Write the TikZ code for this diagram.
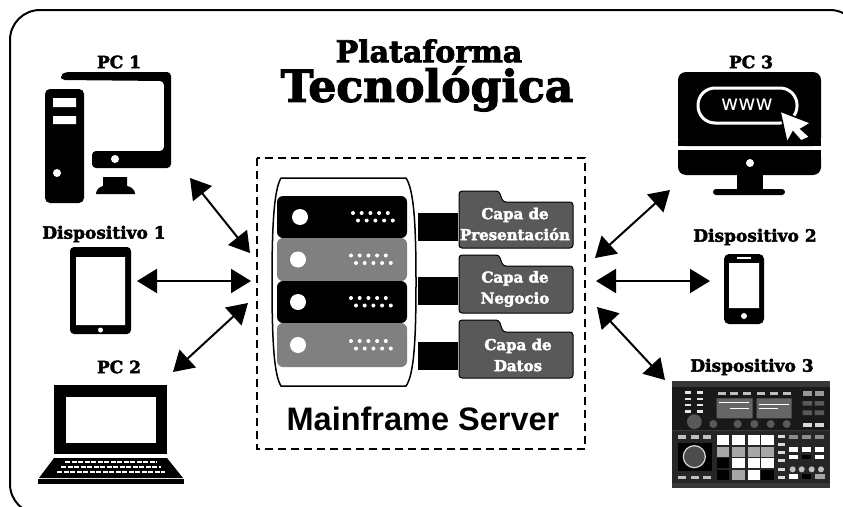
\documentclass[tikz,border=0pt]{standalone}
\usepackage{fontspec}
\usetikzlibrary{arrows.meta}
\newfontface\slabfont{DejaVu Serif Bold}[FakeBold=2.5]
\newfontface\titlefont{DejaVu Serif Bold}[FakeBold=2.5]
\newfontface\headfont{Liberation Sans Bold}
\newfontface\urlfont{DejaVu Sans}
\definecolor{rackgray}{HTML}{808080}
\definecolor{foldergray}{HTML}{595959}
\tikzset{
  devlabel/.style={inner sep=0,font=\slabfont\fontsize{17}{17}\selectfont},
  layerlabel/.style={inner sep=0,align=center,text=white,font=\slabfont\fontsize{15}{21}\selectfont},
  link/.style={line width=2pt,{Triangle[length=20pt,width=24pt]}-{Triangle[length=20pt,width=24pt]}}
}
\begin{document}
\begin{tikzpicture}[x=1pt,y=-1pt]
  % Boundary
  \path[use as bounding box] (0,0) rectangle (843,506);
  \clip (0,0) rectangle (843,506);
  \fill[white] (0,0) rectangle (843,506);
  \draw[line width=2pt,rounded corners=30] (10,10) rectangle (860,514);
  % Title
  \node[inner sep=0,font=\titlefont\fontsize{30}{30}\selectfont] (titleTop) at (429,51) {Plataforma};
  \node[inner sep=0,font=\titlefont\fontsize{44}{44}\selectfont] (titleBottom) at (427,89) {Tecnológica};
  % PC 1
  \node[devlabel] (pcOne) at (119,62) {PC 1};
  \fill[rounded corners=5] (45,89) rectangle (84,203);
  \fill[white] (53,98) rectangle (76,107) (53,116) rectangle (76,124) (57,173) circle (4);
  \fill[rounded corners=4] (61,80) -- (61,76) -- (64,72) -- (171,72) -- (171,168) -- (92,168) -- (92,151) -- (164,151) -- (164,81) -- cycle;
  \fill[white] (115,159) circle (4);
  \fill (103,177) -- (127,177) -- (127,186) .. controls (132,187) and (135,190) .. (135,194) -- (96,194) .. controls (96,190) and (99,187) .. (103,186) -- cycle;
  % Dispositivo 1
  \node[devlabel] (devOne) at (104,234) {Dispositivo 1};
  \fill[rounded corners=4] (70,247) rectangle (131,334);
  \fill[white] (76,257) rectangle (125,325) (100.5,330) circle (2.5);
  % PC 2
  \node[devlabel] (pcTwo) at (119,367) {PC 2};
  \fill (54,385) rectangle (167,454);
  \fill[white] (66,397) rectangle (156,443);
  \fill (54,458) -- (167,458) -- (183,478) -- (39,478) -- cycle;
  \fill (38,479) rectangle (184,484);
  \foreach \row/\xa/\xb in {462/65/157,467/61/161,472/57/165}
    \draw[white,line width=2.6pt,dash pattern=on 5pt off 1.5pt] (\xa,\row) -- (\xb,\row);
  % Server frame
  \draw[line width=1.5pt,dash pattern=on 8pt off 5pt] (257,158) rectangle (585,449);
  \draw[line width=1.5pt,fill=white] (281,178) -- (406,178) .. controls (414,190) and (416,225) .. (416,282) .. controls (416,340) and (414,375) .. (406,386) -- (281,386) .. controls (274,375) and (272,340) .. (272,282) .. controls (272,225) and (274,190) .. (281,178) -- cycle;
  % Racks
  \foreach \top/\bot/\shade/\dotx in {196/238/black/2,238/281/rackgray/0,281/323/black/0,323/367/rackgray/0} {
    \fill[\shade,rounded corners=6] (277,\top) rectangle (407,\bot);
    \pgfmathsetmacro\cy{(\top+\bot)/2}
    \fill[white] (298+\dotx,\cy) circle (8);
    \foreach \k in {0,...,4} {
      \fill[white] (351+\dotx+8.7*\k,\cy-4) circle (2);
      \fill[white] (356+\dotx+8.7*\k,\cy+3.5) circle (2);
    }
  }
  % Folders
  \foreach \top/\body/\bot in {191/202/248,255/266/313,320/332/378} {
    \fill (418,\top+22) rectangle (458,\top+50);
    \filldraw[fill=foldergray,draw=black,line width=1pt,rounded corners=3] (459,\bot) -- (459,\top) -- (499,\top) -- (503,\body) -- (573,\body) -- (573,\bot) -- cycle;
  }
  \node[layerlabel] (capaPres) at (515,224) {Capa de\\Presentación};
  \node[layerlabel] (capaNeg) at (515,289) {Capa de\\Negocio};
  \node[layerlabel] (capaDat) at (518,355) {Capa de\\Datos};
  \node[inner sep=0,font=\headfont\fontsize{32.5}{32}\selectfont] (serverName) at (423,419) {Mainframe Server};
  % PC 3
  \node[devlabel] (pcThree) at (751,62) {PC 3};
  \fill[rounded corners=8] (678,72) -- (821,72) -- (821,146) -- (678,146) -- cycle;
  \fill (678,140) rectangle (821,146);
  \fill[rounded corners=8] (678,175) -- (678,150) -- (821,150) -- (821,175) -- cycle;
  \fill (678,150) rectangle (821,160);
  \fill[white] (750,163) circle (4);
  \fill (737,174) rectangle (763,190);
  \fill[rounded corners=3] (713,189) rectangle (785,195);
  \draw[white,line width=3pt,rounded corners=17] (698,88) rectangle (797,123);
  \node[inner sep=0,text=white,font=\urlfont\fontsize{21}{21}\selectfont] (urlText) at (747,105) {www};
  \filldraw[fill=white,draw=black,line width=1.5pt] (780,111) -- (811,123) -- (801,129) -- (810,137) -- (801,141) -- (793,132) -- (787,143) -- cycle;
  % Dispositivo 2
  \node[devlabel] (devTwo) at (755,237) {Dispositivo 2};
  \fill[rounded corners=5] (724,254) rectangle (764,324);
  \fill[white] (729,263) rectangle (759,308) (744,316) circle (3);
  \draw[white,line width=1.5pt] (737,258) -- (751,258);
  % Dispositivo 3
  \node[devlabel] (devThree) at (752,367) {Dispositivo 3};
  \begin{scope}[shift={(650,340)},scale=1/3]
    \fill[black!78] (67,122) rectangle (540,445);
    \fill[black!90] (67,140) rectangle (540,270);
    \fill[black!85] (67,273) rectangle (540,430);
    \foreach \bx in {115,150}
      \foreach \by in {158,177,195,214}
        \fill[white!90!black] (\bx-9,\by-4) rectangle (\bx+9,\by+4);
    \fill[black!65] (133,245) circle (22);
    \foreach \bx in {215,253,292,333,372,411}
      \fill[black!25] (\bx-12,155) rectangle (\bx+12,166);
    \fill[black!60] (200,175) rectangle (308,235) (320,175) rectangle (425,235);
    \draw[white,line width=1pt] (207,188) -- (298,188) (240,205) -- (298,205) (327,192) -- (418,192) (327,205) -- (385,205);
    \foreach \bx in {190,263,313,362,410}
      \fill[black!65] (\bx,252) circle (12);
    \foreach \bx in {472,508} {
      \fill[black!40] (\bx-14,153) rectangle (\bx+14,167);
      \fill[black!65] (\bx-14,183) rectangle (\bx+14,197) (\bx-14,211) rectangle (\bx+14,225);
      \fill[black!15] (\bx-14,248) rectangle (\bx+14,262);
    }
    \foreach \bx in {95,135,172} {
      \fill[black!25] (\bx-12,285) rectangle (\bx+12,296);
      \fill[black!25] (\bx-12,407) rectangle (\bx+12,418);
    }
    \fill[black] (85,308) rectangle (185,393);
    \filldraw[fill=black!70,draw=white!85!black,line width=1.2pt] (133,350) circle (33);
    % Pads
    \foreach \bx/\by/\pad in {200/285/white,247/285/white,293/285/white,334/285/white,
      200/320/black!35,247/320/black!35,293/320/black!35,334/320/black!35,
      200/355/black,247/355/white,293/355/white,334/355/white,
      200/390/black,247/390/black!35,293/390/white,334/390/black}
      \fill[\pad] (\bx,\by) rectangle (\bx+38,\by+30);
    \foreach \by in {290,313,338,362,388,412}
      \fill[black!15] (384,\by-5) rectangle (406,\by+5);
    \foreach \bx in {430,470,508} {
      \fill[black!45] (\bx-14,284) rectangle (\bx+14,297);
      \fill[white] (\bx-14,322) rectangle (\bx+14,335);
      \fill[white] (\bx-14,344) rectangle (\bx+14,357);
    }
    \fill[black] (456,344) rectangle (484,357);
    \foreach \bx in {428,455,485,513}
      \fill[black!25] (\bx,388) circle (9);
    \fill[white] (416,403) rectangle (444,417);
    \fill[black] (456,403) rectangle (484,417);
    \fill[black!35] (496,403) rectangle (524,417);
  \end{scope}
  % Link ends
  \coordinate (pcOneEnd) at (190,178);
  \coordinate (pcOneSrv) at (250,253);
  \coordinate (devOneEnd) at (137,281);
  \coordinate (devOneSrv) at (251,281);
  \coordinate (pcTwoEnd) at (173,372);
  \coordinate (pcTwoSrv) at (248,303);
  \coordinate (pcThreeEnd) at (670,190);
  \coordinate (pcThreeSrv) at (595,258);
  \coordinate (devTwoEnd) at (710,281);
  \coordinate (devTwoSrv) at (596,281);
  \coordinate (devThreeEnd) at (665,380);
  \coordinate (devThreeSrv) at (597,307);
  % Links
  \draw[link] (pcOneEnd) -- (pcOneSrv);
  \draw[link] (devOneEnd) -- (devOneSrv);
  \draw[link] (pcTwoEnd) -- (pcTwoSrv);
  \draw[link] (pcThreeEnd) -- (pcThreeSrv);
  \draw[link] (devTwoEnd) -- (devTwoSrv);
  \draw[link] (devThreeEnd) -- (devThreeSrv);
\end{tikzpicture}
\end{document}
